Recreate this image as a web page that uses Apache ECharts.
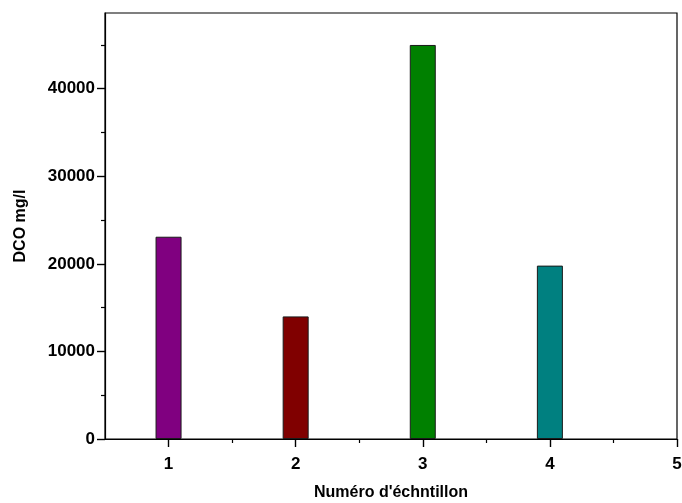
<!DOCTYPE html>
<html>
<head>
<meta charset="utf-8">
<script src="https://cdn.jsdelivr.net/npm/echarts@6/dist/echarts.min.js"></script>
<style>
  html, body { margin: 0; padding: 0; background: #fff; }
  #chart { width: 682px; height: 503px; }
</style>
</head>
<body>
<div id="chart"></div>
<script>
// Sample numbers and their COD (DCO) values in mg/l
const samples = [1, 2, 3, 4];
const dcoValues = [23100, 14000, 45000, 19800];
const barColors = ['#800080', '#800000', '#008000', '#008080'];

// Axis tick positions
const xMajorTicks = [1, 2, 3, 4, 5];
const xMinorTicks = [1.5, 2.5, 3.5, 4.5];
const yMajorTicks = [0, 10000, 20000, 30000, 40000];
const yMinorTicks = [5000, 15000, 25000, 35000, 45000];

const FONT = '"Liberation Sans", Arial, sans-serif';
const X_MIN = 0.5, X_MAX = 5, Y_MIN = 0, Y_MAX = 48650;

const chart = echarts.init(document.getElementById('chart'), null, { renderer: 'canvas' });

const lblStyle = { fontFamily: FONT, fontWeight: 'bold', fontSize: 17, color: '#000' };
const plain = v => String(v);

chart.setOption({
  animation: false,
  backgroundColor: '#fff',
  grid: {
    left: 105, top: 13, width: 572, height: 426,
    outerBoundsMode: 'none', containLabel: false,
    show: true, borderColor: '#000', borderWidth: 1.2, backgroundColor: 'transparent'
  },
  xAxis: [
    {
      type: 'value', min: X_MIN, max: X_MAX, interval: 0.5,
      name: "Numéro d'échntillon", nameLocation: 'middle', nameGap: 46,
      nameTextStyle: { fontFamily: FONT, fontWeight: 'bold', fontSize: 16, color: '#000' },
      axisLine: { show: true, lineStyle: { color: '#000', width: 1.2 } },
      axisTick: { show: true, customValues: xMajorTicks, length: 8, lineStyle: { color: '#000', width: 1.4 } },
      axisLabel: Object.assign({ customValues: xMajorTicks, margin: 17, formatter: plain }, lblStyle),
      splitLine: { show: false }
    },
    {
      type: 'value', min: X_MIN, max: X_MAX, position: 'bottom',
      axisLine: { show: false },
      axisTick: { show: true, customValues: xMinorTicks, length: 4, lineStyle: { color: '#000', width: 1.2 } },
      axisLabel: { show: false },
      splitLine: { show: false }
    }
  ],
  yAxis: [
    {
      type: 'value', min: Y_MIN, max: Y_MAX,
      name: 'DCO mg/l', nameLocation: 'middle', nameGap: 76, nameRotate: 90,
      nameTextStyle: { fontFamily: FONT, fontWeight: 'bold', fontSize: 16, color: '#000' },
      axisLine: { show: true, lineStyle: { color: '#000', width: 1.2 } },
      axisTick: { show: true, customValues: yMajorTicks, length: 8, lineStyle: { color: '#000', width: 1.4 } },
      axisLabel: Object.assign({ customValues: yMajorTicks, margin: 10, formatter: plain }, lblStyle),
      splitLine: { show: false }
    },
    {
      type: 'value', min: Y_MIN, max: Y_MAX, position: 'left',
      axisLine: { show: false },
      axisTick: { show: true, customValues: yMinorTicks, length: 4, lineStyle: { color: '#000', width: 1.2 } },
      axisLabel: { show: false },
      splitLine: { show: false }
    }
  ],
  series: [{
    type: 'bar',
    xAxisIndex: 0,
    yAxisIndex: 0,
    barWidth: 26,
    data: samples.map((s, i) => ({
      value: [s, dcoValues[i]],
      itemStyle: { color: barColors[i], borderColor: '#1a1a1a', borderWidth: 1 }
    }))
  }]
});
</script>
</body>
</html>
